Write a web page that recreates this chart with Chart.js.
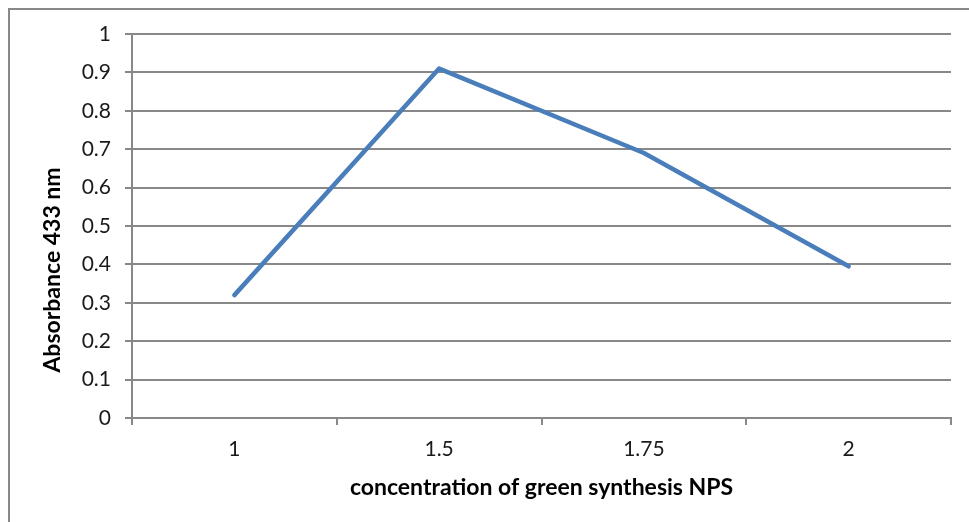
<!DOCTYPE html>
<html>
<head>
<meta charset="utf-8">
<script src="https://cdn.jsdelivr.net/npm/chart.js@4/dist/chart.umd.min.js"></script>
<style>
  html, body { margin: 0; padding: 0; background: #fff; overflow: hidden; }
  #frame { position: absolute; left: 8px; top: 8px; width: 1100px; height: 700px;
           border-left: 2px solid #888; border-top: 2px solid #888; }
  #c { position: absolute; left: 0; top: 0; }
</style>
</head>
<body>
<div id="frame"></div>
<canvas id="c" width="969" height="522"></canvas>
<script>
const categories = ["1", "1.5", "1.75", "2"];
const absorbance = [0.32, 0.91, 0.69, 0.395];
const yTicks = [0, 0.1, 0.2, 0.3, 0.4, 0.5, 0.6, 0.7, 0.8, 0.9, 1];
const xTitle = "concentration of green synthesis NPS";
const yTitle = "Absorbance 433 nm";

const FONT = "Lato, 'Open Sans', sans-serif";
const GRID = "#888888";

// Y-axis title, placed as in the reference (slightly below the plot centre)
const yTitlePlugin = {
  id: "yTitlePlugin",
  afterDraw(chart) {
    const ctx = chart.ctx;
    const area = chart.chartArea;
    ctx.save();
    ctx.translate(53, (area.top + area.bottom) / 2 + 44);
    ctx.rotate(-Math.PI / 2);
    ctx.font = "bold 23px " + FONT;
    ctx.fillStyle = "#000";
    ctx.textAlign = "center";
    ctx.textBaseline = "middle";
    ctx.fillText(yTitle, 0, 0);
    ctx.restore();
  }
};

new Chart(document.getElementById("c"), {
  type: "line",
  data: {
    labels: categories,
    datasets: [{
      data: absorbance,
      borderColor: "#4A7EBB",
      borderWidth: 4.5,
      pointRadius: 0,
      pointHoverRadius: 0,
      borderCapStyle: "round",
      borderJoinStyle: "round",
      tension: 0,
      fill: false
    }]
  },
  plugins: [yTitlePlugin],
  options: {
    responsive: false,
    animation: false,
    events: [],
    layout: { padding: { left: 0, top: 34, right: 18, bottom: 0 } },
    plugins: { legend: { display: false }, tooltip: { enabled: false } },
    scales: {
      x: {
        type: "category",
        offset: true,
        grid: { offset: true, drawOnChartArea: false, drawTicks: true, tickLength: 7, color: GRID, lineWidth: 2 },
        border: { color: GRID, width: 2 },
        ticks: { color: "#1a1a1a", font: { family: FONT, size: 21 }, padding: 12, maxRotation: 0 },
        title: { display: true, text: xTitle, color: "#000", font: { family: FONT, size: 23, weight: "bold" }, padding: { top: 0, bottom: 21 } },
        afterFit: s => { s.height = 104; }
      },
      y: {
        min: 0, max: 1,
        afterBuildTicks: s => { s.ticks = yTicks.map(v => ({ value: v })); },
        grid: { drawTicks: true, tickLength: 7, color: GRID, lineWidth: 2 },
        border: { color: GRID, width: 2 },
        ticks: { color: "#1a1a1a", font: { family: FONT, size: 21 }, padding: 14,
                 callback: v => String(Math.round(v * 10) / 10) },
        title: { display: false },
        afterFit: s => { s.width = 132; }
      }
    }
  }
});
</script>
</body>
</html>
